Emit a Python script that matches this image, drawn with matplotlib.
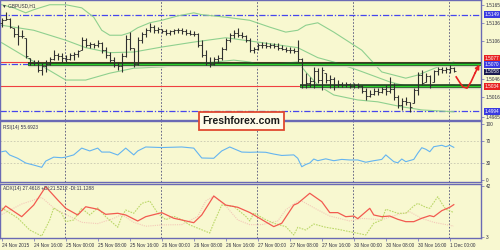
import numpy as np
import matplotlib
matplotlib.use("Agg")
import matplotlib.pyplot as plt
import matplotlib.transforms as mtransforms

# GBPUSD H1 bars, first bar = 24 Nov 2015 08:00
highs = [1.5144, 1.5153, 1.5144, 1.5128, 1.5132, 1.5124, 1.5112, 1.5080, 1.5076, 1.5076,
         1.5071, 1.5076, 1.5081, 1.5092, 1.5088, 1.5088, 1.5084, 1.5088, 1.5089, 1.5092,
         1.5113, 1.5112, 1.5105, 1.5104, 1.5108, 1.5105, 1.5097, 1.5089, 1.5081, 1.5073,
         1.5088, 1.5116, 1.5121, 1.5096, 1.5113, 1.5121, 1.5128, 1.5136, 1.5132, 1.5129,
         1.5126, 1.5126, 1.5124, 1.5126, 1.5128, 1.5128, 1.5126, 1.5124, 1.5123, 1.5120,
         1.5108, 1.5092, 1.5081, 1.5081, 1.5084, 1.5097, 1.5112, 1.5120, 1.5124, 1.5128,
         1.5121, 1.5116, 1.5112, 1.5097, 1.5104, 1.5105, 1.5105, 1.5104, 1.5104, 1.5104,
         1.5100, 1.5097, 1.5097, 1.5096, 1.5108, 1.5080, 1.5055, 1.5049, 1.5065, 1.5063,
         1.5065, 1.5055, 1.5052, 1.5049, 1.5044, 1.5041, 1.5041, 1.5039, 1.5039, 1.5039,
         1.5036, 1.5031, 1.5028, 1.5031, 1.5031, 1.5033, 1.5036, 1.5049, 1.5039, 1.5020,
         1.5015, 1.5017, 1.5009, 1.5031, 1.5057, 1.5060, 1.5055, 1.5052, 1.5060, 1.5065,
         1.5065, 1.5065, 1.5068, 1.5065]
lows = [1.5129, 1.5140, 1.5128, 1.5113, 1.5100, 1.5112, 1.5080, 1.5068, 1.5068, 1.5057,
        1.5052, 1.5057, 1.5068, 1.5076, 1.5076, 1.5073, 1.5073, 1.5076, 1.5076, 1.5081,
        1.5092, 1.5097, 1.5096, 1.5096, 1.5097, 1.5088, 1.5080, 1.5071, 1.5065, 1.5060,
        1.5057, 1.5081, 1.5092, 1.5065, 1.5068, 1.5104, 1.5113, 1.5121, 1.5120, 1.5120,
        1.5120, 1.5116, 1.5116, 1.5118, 1.5120, 1.5118, 1.5116, 1.5116, 1.5115, 1.5097,
        1.5081, 1.5068, 1.5065, 1.5068, 1.5071, 1.5076, 1.5092, 1.5105, 1.5112, 1.5113,
        1.5112, 1.5105, 1.5089, 1.5088, 1.5092, 1.5096, 1.5096, 1.5096, 1.5096, 1.5092,
        1.5092, 1.5089, 1.5088, 1.5088, 1.5073, 1.5031, 1.5031, 1.5033, 1.5031, 1.5039,
        1.5028, 1.5039, 1.5031, 1.5028, 1.5033, 1.5033, 1.5033, 1.5031, 1.5031, 1.5031,
        1.5023, 1.5012, 1.5017, 1.5020, 1.5020, 1.5023, 1.5020, 1.5023, 1.5012, 1.4999,
        1.4996, 1.5004, 1.4993, 1.5007, 1.5020, 1.5036, 1.5041, 1.5031, 1.5041, 1.5052,
        1.5055, 1.5055, 1.5055, 1.5057]
closes = [1.5140, 1.5142, 1.5130, 1.5118, 1.5115, 1.5114, 1.5082, 1.5072, 1.5072, 1.5060,
          1.5066, 1.5070, 1.5078, 1.5084, 1.5082, 1.5080, 1.5078, 1.5084, 1.5086, 1.5090,
          1.5108, 1.5100, 1.5102, 1.5100, 1.5104, 1.5092, 1.5084, 1.5076, 1.5068, 1.5066,
          1.5082, 1.5110, 1.5096, 1.5070, 1.5108, 1.5118, 1.5124, 1.5130, 1.5124, 1.5126,
          1.5122, 1.5120, 1.5122, 1.5124, 1.5124, 1.5122, 1.5120, 1.5118, 1.5118, 1.5100,
          1.5084, 1.5072, 1.5070, 1.5078, 1.5080, 1.5094, 1.5108, 1.5116, 1.5120, 1.5116,
          1.5114, 1.5108, 1.5092, 1.5094, 1.5100, 1.5100, 1.5098, 1.5100, 1.5098, 1.5096,
          1.5094, 1.5092, 1.5092, 1.5090, 1.5078, 1.5036, 1.5040, 1.5042, 1.5058, 1.5044,
          1.5060, 1.5044, 1.5046, 1.5036, 1.5038, 1.5036, 1.5038, 1.5034, 1.5036, 1.5034,
          1.5026, 1.5018, 1.5022, 1.5026, 1.5024, 1.5030, 1.5026, 1.5030, 1.5016, 1.5004,
          1.5010, 1.5008, 1.5000, 1.5028, 1.5052, 1.5040, 1.5050, 1.5036, 1.5058, 1.5062,
          1.5060, 1.5062, 1.5064, 1.5058]
first_open = 1.5136

# Bollinger bands read at a few bars
bb_up_i = [0, 3, 6, 8, 12, 16, 20, 23, 25, 27, 30, 32, 34, 37, 40, 44, 48, 50, 56, 62,
           67, 71, 74, 76, 79, 83, 90, 95, 101, 104, 109, 113]
bb_up = [1.5165, 1.5160, 1.5152, 1.5157, 1.5165, 1.5165, 1.5160, 1.5145, 1.5124, 1.5116,
         1.5116, 1.5120, 1.5128, 1.5136, 1.5140, 1.5147, 1.5152, 1.5149, 1.5145, 1.5140,
         1.5129, 1.5121, 1.5124, 1.5132, 1.5136, 1.5121, 1.5092, 1.5057, 1.5047, 1.5052,
         1.5065, 1.5073]
bb_mid_i = [0, 8, 16, 21, 27, 33, 40, 48, 56, 64, 74, 79, 83, 89, 97, 102, 113]
bb_mid = [1.5132, 1.5124, 1.5108, 1.5096, 1.5088, 1.5089, 1.5097, 1.5105, 1.5112, 1.5105,
          1.5096, 1.5080, 1.5073, 1.5060, 1.5041, 1.5033, 1.5036]
bb_low_i = [0, 6, 11, 16, 21, 27, 33, 40, 50, 58, 62, 65, 74, 76, 79, 83, 89, 94, 100,
            105, 113]
bb_low = [1.5104, 1.5081, 1.5063, 1.5044, 1.5044, 1.5055, 1.5063, 1.5065, 1.5071, 1.5076,
          1.5073, 1.5068, 1.5073, 1.5057, 1.5036, 1.5020, 1.5012, 1.5009, 1.5001, 1.4996,
          1.4993]

# RSI(14)
rsi_i = [0, 1, 2, 4, 6, 8, 10, 11, 13, 15, 16, 18, 20, 22, 24, 25, 27, 29, 31, 33, 34, 36,
         40, 45, 48, 50, 53, 55, 57, 60, 62, 64, 66, 68, 70, 73, 74, 75, 76, 77, 78, 79, 81,
         83, 85, 87, 89, 91, 93, 95, 96, 98, 99, 100, 101, 103, 104, 105, 106, 107, 108,
         110, 111, 112, 113]
rsi = [50.6, 52, 44.8, 39, 30.6, 27, 23, 34, 41, 40, 41, 45, 57, 52, 57, 50, 50, 44.8,
       57, 45, 52, 59, 58, 59, 57, 39.5, 39, 52, 59, 50, 49.6, 50, 49.6, 46.5, 44, 45, 39,
       24, 28, 30.6, 37.7, 34.7, 38, 34.7, 37, 36, 36, 32, 34.7, 37, 45, 33, 31, 37.7, 33,
       37, 48, 57.7, 55, 50.6, 59.5, 62, 59.5, 62, 58.4]

# ADX(14), +DI, -DI
adx_i = [0, 1, 5, 8, 11, 14, 16, 19, 21, 24, 26, 29, 31, 34, 36, 40, 43, 45, 48, 50, 53,
         56, 59, 62, 68, 70, 73, 74, 77, 80, 82, 84, 86, 88, 89, 92, 93, 95, 97, 99, 101,
         103, 105, 107, 108, 110, 112, 113]
adx = [22.9, 26.5, 18.3, 27.2, 41.2, 31.1, 24.7, 19.6, 25.9, 24.0, 20.1, 20.9, 19.6, 15.0,
       18.3, 21.4, 17.1, 15.8, 13.7, 19.6, 34.1, 27.2, 25.5, 21.5, 10.7, 13.3, 27.2, 28.5,
       36.2, 29.8, 21.4, 21.4, 18.3, 18.8, 16.8, 24.7, 19.6, 18.3, 18.8, 16.3, 14.5, 14.5,
       17.1, 19.1, 18.3, 22.9, 25.5, 27.5]
pdi_i = [0, 4, 7, 10, 12, 13, 15, 16, 18, 20, 22, 24, 26, 29, 30, 31, 33, 35, 37, 39, 41,
         43, 45, 47, 52, 53, 55, 58, 61, 62, 63, 66, 68, 71, 73, 74, 76, 78, 81, 84, 87, 89,
         91, 93, 95, 96, 99, 101, 103, 104, 106, 107, 109, 110, 111, 113]
pdi = [25, 17.3, 8.1, 3.5, 15.8, 25, 20.9, 14.5, 15.8, 24.7, 19.6, 25, 18.3, 10.2, 18.3,
       23.4, 20.9, 28.5, 30.3, 21, 16, 18.6, 16, 12, 5.8, 13.5, 27.2, 26.2, 18.6, 15, 21.1,
       16, 13.3, 10.7, 4.3, 10.2, 8.1, 12.7, 10.2, 8.7, 6.8, 5.6, 4.3, 13.3, 15.8, 24, 20.9,
       20.9, 26.5, 28.5, 25.5, 24.7, 33.6, 28.5, 24, 21.5]
mdi_i = [0, 5, 10, 13, 16, 20, 24, 28, 30, 33, 36, 40, 45, 49, 51, 53, 56, 59, 62, 65, 69,
         71, 74, 75, 79, 82, 87, 90, 95, 99, 102, 105, 108, 113]
mdi = [20, 28, 33, 25, 20, 14, 13, 17, 20, 14, 11, 12, 12.2, 18.5, 30.3, 34.1, 26.5, 15.8,
       12.2, 12.2, 15, 23.5, 30.3, 30.3, 23.5, 18.8, 15, 17, 16, 20, 22, 17, 14, 11.1]

# labels
time_ticks = [0, 8, 16, 24, 32, 40, 48, 56, 64, 72, 80, 88, 96, 104, 112]
time_labels = ["24 Nov 2015", "24 Nov 16:00", "25 Nov 00:00", "25 Nov 08:00", "25 Nov 16:00",
               "26 Nov 00:00", "26 Nov 08:00", "26 Nov 16:00", "27 Nov 00:00", "27 Nov 08:00",
               "27 Nov 16:00", "30 Nov 00:00", "30 Nov 08:00", "30 Nov 16:00", "1 Dec 00:00"]
day_breaks = [16, 40, 64, 88, 112]
price_ticks = [1.5165, 1.5136, 1.5106, 1.5046, 1.5016, 1.4985]
levels_blue = [1.5149, 1.5070, 1.4994]
levels_red = [1.5073, 1.5034]
red_texts = ["1.5077", "1.5034"]
last_price = 1.5058
support_start = 74.6
resist_start = 6.5
forecast_i = [113.6, 114.6, 115.3, 116.3, 117.3, 118.3, 119.1]
forecast_p = [1.5049, 1.5039, 1.5033, 1.5031, 1.5041, 1.5055, 1.5067]

bg = "#f8f8d0"
frame = "#6a6ab4"
font = ["Liberation Sans", "DejaVu Sans"]
plt.rcParams["font.family"] = font
fs = 3.4

fig = plt.figure(figsize=(5, 2.5), dpi=100, facecolor=bg)
W, H = 500.0, 250.0
ax = fig.add_axes([0, 1 - 120 / H, 481 / W, 120 / H])
ax_rsi = fig.add_axes([0, 1 - 182 / H, 481 / W, 61 / H])
ax_adx = fig.add_axes([0, 1 - 238 / H, 481 / W, 54 / H])

xlim = (-0.425, 119.8)
for a in (ax, ax_rsi, ax_adx):
    a.set_facecolor(bg)
    a.set_xlim(*xlim)
    for s in a.spines.values():
        s.set_color(frame)
        s.set_linewidth(1.0)
    a.yaxis.tick_right()
    a.tick_params(axis="y", length=2, width=0.5, color=frame, labelsize=fs, pad=1.2,
                  labelcolor="#303040")
    a.tick_params(axis="x", length=0)
    a.set_xticks([])
    for d in day_breaks:
        a.axvline(d - 0.1, color="#50507a", lw=0.6, ls=(0, (2, 2)), zorder=1)

# ---- price panel
ax.set_ylim(1.49798, 1.51726)
ax.set_yticks(price_ticks)
ax.set_yticklabels(["%.4f" % p for p in price_ticks])

for lv in levels_blue:
    ax.axhline(lv, color="#4646ee", lw=0.9, ls=(0, (5, 1.5, 1, 1.5)), zorder=1)
for lv in levels_red:
    ax.axhline(lv, color="#f04040", lw=0.8, zorder=1)

bi = [bb_up_i, bb_mid_i, bb_low_i]
for xs, ys in zip(bi, [bb_up, bb_mid, bb_low]):
    ax.plot(xs, ys, color="#8fd08f", lw=0.8, zorder=2)

# horizontal zones (dark with green edge)
for lv, x0 in [(1.5070, resist_start), (1.5034, support_start)]:
    ax.plot([x0, xlim[1]], [lv - 0.00018, lv - 0.00018], color="#d8d8c0", lw=2.5,
            zorder=3, solid_capstyle="butt")
    ax.plot([x0, xlim[1]], [lv, lv], color="#1d3d1d", lw=2.6, zorder=3,
            solid_capstyle="butt")
    ax.plot([x0, xlim[1]], [lv, lv], color="#2ccf2c", lw=1.0, zorder=3,
            solid_capstyle="butt")

idx = np.arange(len(closes))
opens = np.clip(np.r_[first_open, closes[:-1]], lows, highs)
ax.vlines(idx, lows, highs, color="#2e2e2e", lw=0.8, zorder=4)
ax.hlines(opens, idx - 0.45, idx, color="#2e2e2e", lw=0.6, zorder=4)
ax.hlines(closes, idx, idx + 0.45, color="#2e2e2e", lw=0.6, zorder=4)

# forecast arrow
ax.plot(forecast_i[:-1], forecast_p[:-1], color="#e82020", lw=1.2, zorder=6)
ax.annotate("", xy=(forecast_i[-1] + 0.3, forecast_p[-1] + 0.0002),
            xytext=(forecast_i[-2], forecast_p[-2]),
            arrowprops=dict(arrowstyle="-|>", color="#e82020", lw=1.2,
                            mutation_scale=6, shrinkA=0, shrinkB=0), zorder=6)

# right side price boxes
trans = mtransforms.blended_transform_factory(ax.transAxes, ax.transData)
boxes = [(levels_red[0] + 0.0005, red_texts[0], "#e82020"),
         (levels_blue[0], "%.4f" % levels_blue[0], "#3a3ae0"),
         (levels_blue[1] - 0.0001, "%.4f" % levels_blue[1], "#3a3ae0"),
         (last_price - 0.0001, "%.4f" % last_price, "#1a1a50"),
         (levels_red[1], red_texts[1], "#e82020"),
         (levels_blue[2], "%.4f" % levels_blue[2], "#3a3ae0")]
for lv, txt, c in boxes:
    ax.text(1.008, lv, txt, transform=trans, fontsize=fs, color="white",
            va="center", ha="left", clip_on=False, zorder=10,
            bbox=dict(boxstyle="square,pad=0.2", fc=c, ec="none"))

ax.text(0.004, 0.955, "\u25bc GBPUSD,H1", transform=ax.transAxes, fontsize=fs,
        color="#303040", va="center", ha="left")

# ---- RSI
ax_rsi.set_ylim(-3, 105)
ax_rsi.set_yticks([100, 70, 30, 0])
for lv in (70, 30):
    ax_rsi.axhline(lv, color="#c8c8b0", lw=0.6, ls=(0, (2, 2)), zorder=1)
ax_rsi.plot(rsi_i, rsi, color="#64b4f0", lw=0.8, zorder=3)
ax_rsi.text(0.006, 0.9, "RSI(14) 55.6923", transform=ax_rsi.transAxes, fontsize=fs,
            color="#303050", va="center")

# ---- ADX
ax_adx.set_ylim(2.0, 43.3)
ax_adx.set_yticks([42, 3])
ax_adx.plot(mdi_i, mdi, color="#f4c8b8", lw=0.8, ls=(0, (1, 1)), zorder=2)
ax_adx.plot(pdi_i, pdi, color="#bcd86a", lw=0.8, ls=(0, (1.5, 1)), zorder=2)
ax_adx.plot(adx_i, adx, color="#f25a50", lw=0.9, zorder=3)
ax_adx.text(0.006, 0.91, "ADX(14) 27.4618 +DI:21.5212 -DI:11.1288",
            transform=ax_adx.transAxes, fontsize=fs, color="#303050", va="center")

ax_adx.set_xticks(time_ticks)
ax_adx.set_xticklabels(time_labels, ha="left")
ax_adx.tick_params(axis="x", length=2, width=0.5, color=frame, labelsize=fs, pad=1.5,
                   labelcolor="#303040")

fig.text(241.5 / W, 1 - 121 / H, "Freshforex.com", fontsize=7.5, fontweight="bold",
         family=font, color="#1a1a1a", ha="center", va="center", zorder=20,
         bbox=dict(boxstyle="square,pad=0.35", fc="#fffbe8", ec="#e04a30", lw=1.3))

fig.savefig("out.png", dpi=100, facecolor=bg)
